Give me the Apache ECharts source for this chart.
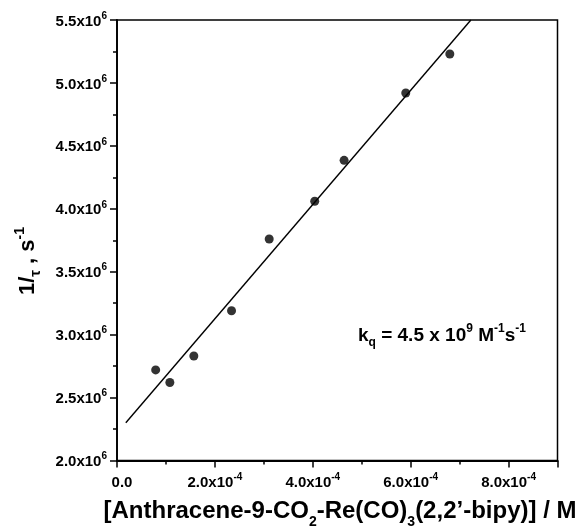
<!DOCTYPE html>
<html>
<head>
<meta charset="utf-8">
<script src="https://cdn.jsdelivr.net/npm/echarts@6/dist/echarts.min.js"></script>
<style>html,body{margin:0;padding:0;background:#fff;}#c{width:580px;height:529px;}</style>
</head>
<body>
<div id="c"></div>
<script>
// Data
var concM = [0.79e-4, 1.08e-4, 1.57e-4, 2.34e-4, 3.11e-4, 4.04e-4, 4.64e-4, 5.90e-4, 6.80e-4];
var rate  = [2.72e6, 2.62e6, 2.83e6, 3.19e6, 3.76e6, 4.06e6, 4.385e6, 4.92e6, 5.23e6];
var fitX  = [0.18e-4, 7.23e-4];
var fitY  = [2.30e6, 5.5e6];
var xTickValues = [0, 2e-4, 4e-4, 6e-4, 8e-4];
var xTickMain   = ['0.0', '2.0x10', '4.0x10', '6.0x10', '8.0x10'];
var xTickExp    = ['', '-4', '-4', '-4', '-4'];
var yTickValues = [2.0e6, 2.5e6, 3.0e6, 3.5e6, 4.0e6, 4.5e6, 5.0e6, 5.5e6];
var yTickMain   = ['2.0x10', '2.5x10', '3.0x10', '3.5x10', '4.0x10', '4.5x10', '5.0x10', '5.5x10'];
var yTickExp    = ['6', '6', '6', '6', '6', '6', '6', '6'];

var FONT = '"Liberation Sans", Arial, Helvetica, sans-serif';
var scatterData = concM.map(function (x, i) { return [x, rate[i]]; });
var fitData = fitX.map(function (x, i) { return [x, fitY[i]]; });

function findIdx(arr, v) {
  for (var i = 0; i < arr.length; i++) { if (Math.abs(arr[i] - v) < Math.abs(v) * 1e-6 + 1e-12) return i; }
  return -1;
}
var tickRich = {
  a: { fontSize: 15, fontWeight: 'bold', fontFamily: FONT, color: '#000', lineHeight: 18, verticalAlign: 'bottom' },
  s: { fontSize: 10, fontWeight: 'bold', fontFamily: FONT, color: '#000', lineHeight: 18, verticalAlign: 'top' },
  z: { fontSize: 15, fontWeight: 'bold', fontFamily: FONT, color: '#000', lineHeight: 18, verticalAlign: 'bottom', padding: [0, 0, 0, 10] }
};

var chart = echarts.init(document.getElementById('c'), null, { renderer: 'canvas' });
chart.setOption({
  animation: false,
  backgroundColor: '#fff',
  grid: { left: 117, top: 20, right: 22.5, bottom: 68.5, show: true, borderColor: '#000', borderWidth: 1.5, backgroundColor: 'transparent' },
  xAxis: [{
    type: 'value', position: 'bottom', min: 0, max: 9e-4, interval: 2e-4,
    axisLine: { show: true, lineStyle: { color: '#000', width: 1.8 } },
    axisTick: { show: true, inside: false, length: 7, lineStyle: { color: '#000', width: 1.5 } },
    splitLine: { show: false },
    axisLabel: {
      margin: 12,
      formatter: function (v) {
        var i = findIdx(xTickValues, v);
        if (i < 0) return '';
        if (i === 0) return '{z|' + xTickMain[i] + '}';
        return '{a|' + xTickMain[i] + '}{s|' + xTickExp[i] + '}';
      },
      rich: tickRich
    }
  }, {
    type: 'value', position: 'bottom', min: 0, max: 9e-4, interval: 1e-4,
    axisLine: { show: false },
    axisTick: { show: true, inside: false, length: 4, lineStyle: { color: '#000', width: 1.5 } },
    splitLine: { show: false },
    axisLabel: { show: false }
  }],
  yAxis: [{
    type: 'value', min: 2.0e6, max: 5.5e6, interval: 0.5e6,
    axisLine: { show: true, lineStyle: { color: '#000', width: 1.8 } },
    axisTick: { show: true, inside: false, length: 7, lineStyle: { color: '#000', width: 1.5 } },
    minorTick: { show: true, splitNumber: 2, length: 4, lineStyle: { color: '#000', width: 1.5 } },
    splitLine: { show: false },
    minorSplitLine: { show: false },
    axisLabel: {
      margin: 10,
      formatter: function (v) {
        var i = findIdx(yTickValues, v);
        if (i < 0) return '';
        return '{a|' + yTickMain[i] + '}{s|' + yTickExp[i] + '}';
      },
      rich: tickRich
    }
  }],
  series: [{
    type: 'line', data: fitData, xAxisIndex: 0, yAxisIndex: 0,
    showSymbol: false, symbol: 'none', lineStyle: { color: '#000', width: 1.4 }, z: 2, silent: true
  }, {
    type: 'scatter', data: scatterData, xAxisIndex: 0, yAxisIndex: 0,
    symbol: 'circle', symbolSize: 9, itemStyle: { color: '#000' }, z: 3, silent: true
  }],
  graphic: [{
    type: 'text', x: 340, y: 514,
    style: {
      text: '{t|[Anthracene-9-CO}{b|2}{t|-Re(CO)}{b|3}{t|(2,2\u2019-bipy)] / M}',
      align: 'center', verticalAlign: 'middle',
      rich: {
        t: { fontSize: 24, fontWeight: 'bold', fontFamily: FONT, fill: '#000', lineHeight: 30, verticalAlign: 'top' },
        b: { fontSize: 14, fontWeight: 'bold', fontFamily: FONT, fill: '#000', lineHeight: 30, verticalAlign: 'bottom' }
      }
    }
  }, {
    type: 'text', x: 28, y: 261, rotation: Math.PI / 2,
    style: {
      text: '{t|1/}{u|\u03c4}{t| , s}{s|-1}',
      align: 'center', verticalAlign: 'middle',
      rich: {
        t: { fontSize: 22, fontWeight: 'bold', fontFamily: FONT, fill: '#000', lineHeight: 30, verticalAlign: 'middle' },
        u: { fontSize: 15, fontWeight: 'bold', fontFamily: FONT, fill: '#000', lineHeight: 30, verticalAlign: 'bottom' },
        s: { fontSize: 14, fontWeight: 'bold', fontFamily: FONT, fill: '#000', lineHeight: 30, verticalAlign: 'top' }
      }
    }
  }, {
    type: 'text', x: 358, y: 336,
    style: {
      text: '{t|k}{b|q}{t| = 4.5 x 10}{s|9}{t| M}{s|-1}{t|s}{s|-1}',
      align: 'left', verticalAlign: 'middle',
      rich: {
        t: { fontSize: 19, fontWeight: 'bold', fontFamily: FONT, fill: '#000', lineHeight: 26, verticalAlign: 'middle' },
        b: { fontSize: 12, fontWeight: 'bold', fontFamily: FONT, fill: '#000', lineHeight: 26, verticalAlign: 'bottom' },
        s: { fontSize: 12, fontWeight: 'bold', fontFamily: FONT, fill: '#000', lineHeight: 26, verticalAlign: 'top' }
      }
    }
  }]
});
</script>
</body>
</html>
